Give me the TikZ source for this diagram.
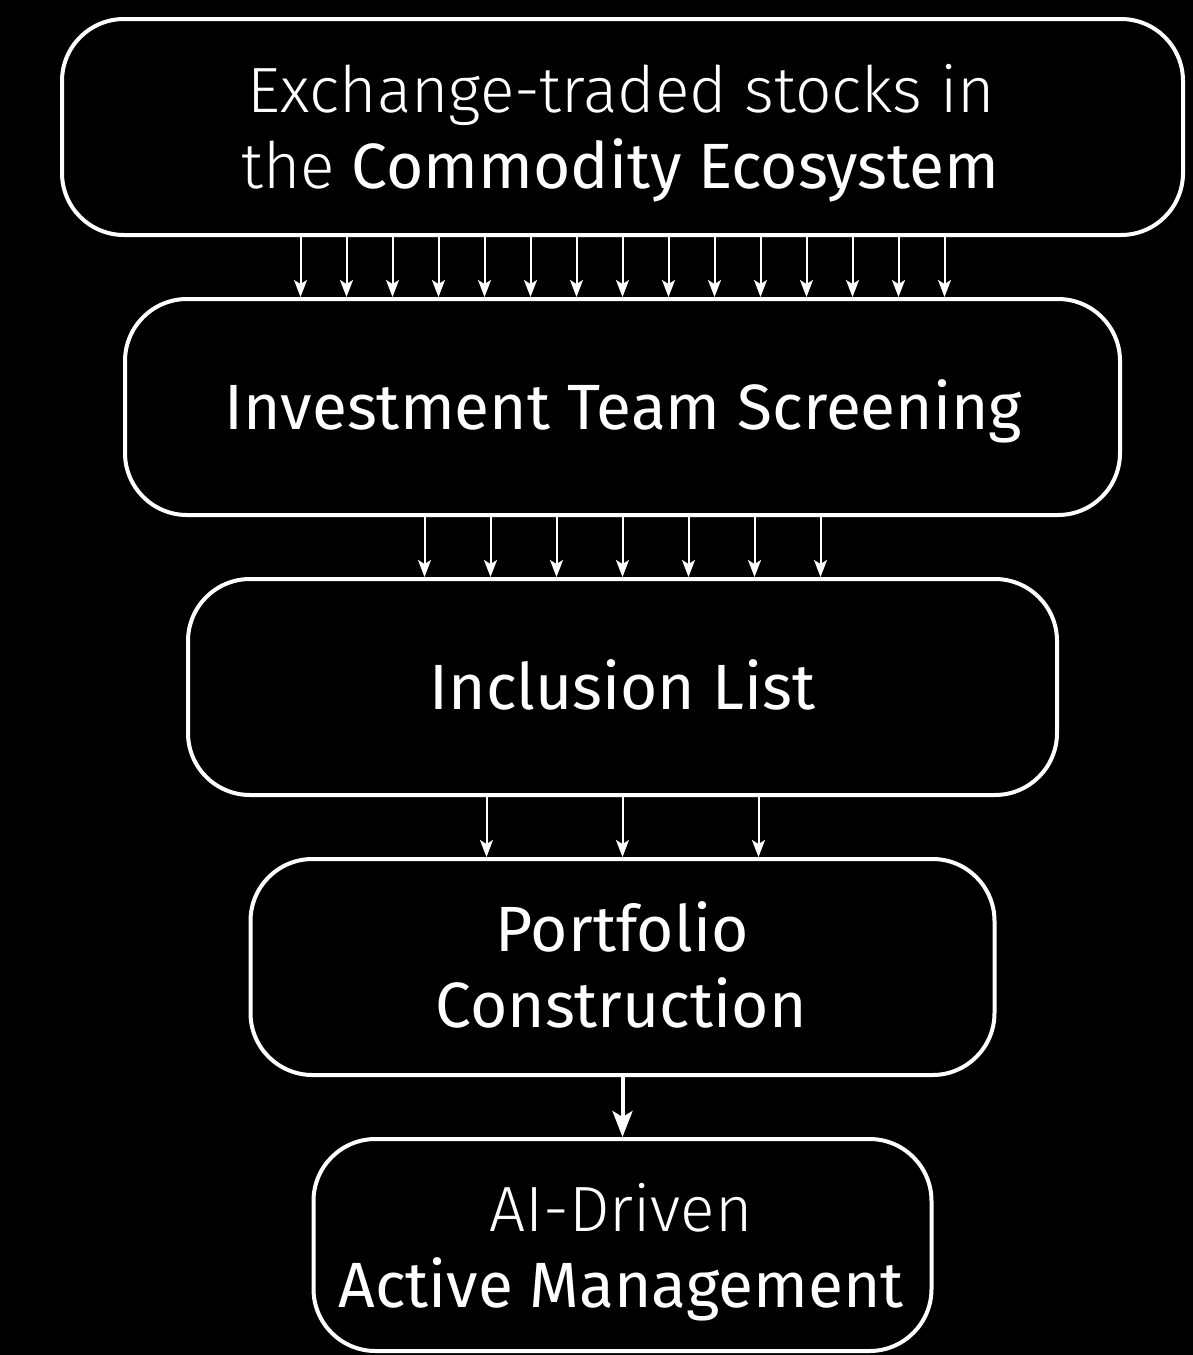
\documentclass[tikz,border=0pt]{standalone}
\usepackage{fontspec}
\setmainfont{Fira Sans}
\newfontfamily\lightfont{Fira Sans Light}
\usetikzlibrary{arrows.meta}
\begin{document}
\begin{tikzpicture}[x=1pt,y=-1pt,
  box/.style={draw=white,line width=4pt,rounded corners=62pt,fill=black,inner sep=0pt,minimum height=216pt},
  txt/.style={text=white,anchor=base,inner sep=0pt,font=\fontsize{64}{76}\selectfont},
  thinarr/.style={draw=white,line width=2pt,-{Stealth[length=17pt,width=13pt,inset=4pt]}},
  thickarr/.style={draw=white,line width=4pt,-{Stealth[length=26pt,width=20pt,inset=6pt]}}]
\fill[black] (0,0) rectangle (1193,1355);
\useasboundingbox (0,0) rectangle (1193,1355);
\node[box,minimum width=1121pt] (b1) at (622.5,127) {};
\node[box,minimum width=995pt] (b2) at (622.5,407) {};
\node[box,minimum width=869pt] (b3) at (622.5,687) {};
\node[box,minimum width=744pt] (b4) at (622.5,967) {};
\node[box,minimum width=618pt,minimum height=212pt] (b5) at (622.5,1245) {};
\node[txt] (t1a) at (621.5,112) {\lightfont Exchange-traded stocks in};
\node[txt] (t1b) at (620.5,188) {{\lightfont the} Commodity Ecosystem};
\node[txt] (t2) at (623.5,429) {Investment Team Screening};
\node[txt] (t3) at (622.5,709) {Inclusion List};
\node[txt] (t4a) at (622,951) {Portfolio};
\node[txt] (t4b) at (621,1027) {Construction};
\node[txt] (t5a) at (621,1231) {\lightfont AI-Driven};
\node[txt] (t5b) at (621,1307) {Active Management};
\foreach \i in {-7,...,7}
  \draw[thinarr] ([xshift=\i*46pt]b1.south) -- ([xshift=\i*46pt]b2.north);
\foreach \i in {-3,...,3}
  \draw[thinarr] ([xshift=\i*66pt]b2.south) -- ([xshift=\i*66pt]b3.north);
\foreach \i in {-1,0,1}
  \draw[thinarr] ([xshift=\i*136pt]b3.south) -- ([xshift=\i*136pt]b4.north);
\draw[thickarr] (b4.south) -- (b5.north);
\end{tikzpicture}
\end{document}
